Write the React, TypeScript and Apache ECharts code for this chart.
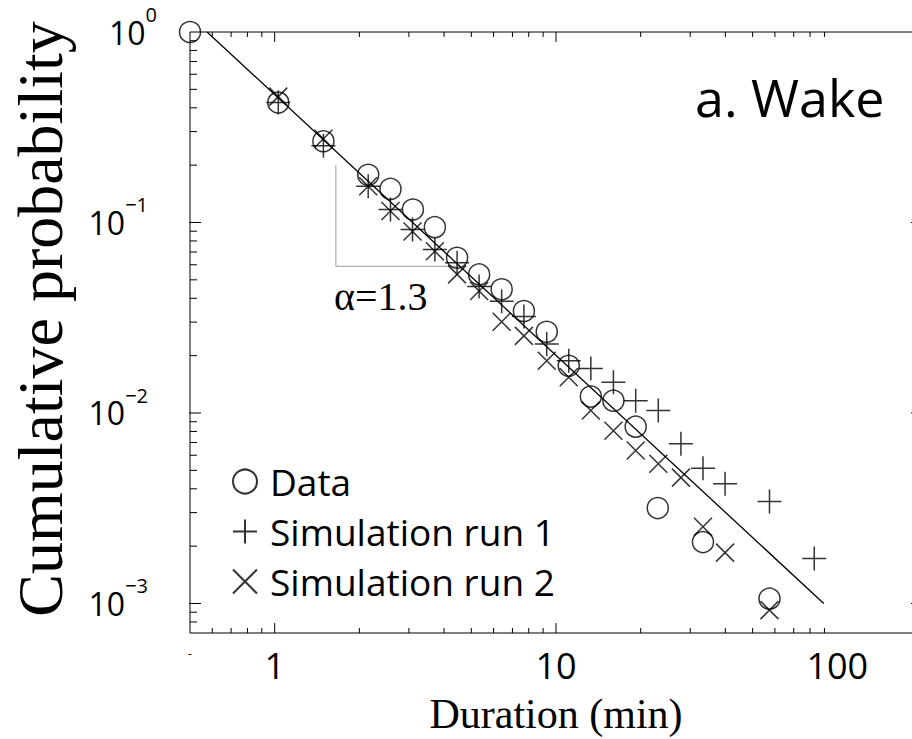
import React, { useEffect, useRef } from "react";
import * as echarts from "echarts";

// ---- data ----
const dataX = [0.5, 1.03, 1.49, 2.15, 2.58, 3.1, 3.71, 4.45, 5.33, 6.41, 7.69, 9.27, 11.1, 13.3, 16.0, 19.2, 23.0, 33.3, 57.4];
const dataY = [1.0, 0.426, 0.267, 0.178, 0.15, 0.117, 0.0945, 0.0653, 0.0534, 0.0446, 0.0343, 0.0267, 0.0177, 0.0122, 0.0116, 0.00848, 0.00317, 0.0021, 0.00106];

const sim1X = [1.03, 1.49, 2.15, 2.58, 3.09, 3.71, 4.45, 5.33, 6.41, 7.69, 9.27, 11.1, 13.3, 16.0, 19.2, 23.1, 27.8, 33.3, 39.9, 57.4, 82.8];
const sim1Y = [0.426, 0.253, 0.155, 0.117, 0.0919, 0.0722, 0.0615, 0.0462, 0.0386, 0.0321, 0.023, 0.0188, 0.0171, 0.0145, 0.0116, 0.0103, 0.00689, 0.00513, 0.00425, 0.00343, 0.00172];

const sim2X = [1.03, 1.49, 2.15, 2.58, 3.09, 3.71, 4.45, 5.33, 6.41, 7.69, 9.27, 11.1, 13.3, 16.0, 19.2, 23.1, 27.8, 33.3, 39.9, 57.4];
const sim2Y = [0.458, 0.275, 0.155, 0.115, 0.0897, 0.0706, 0.0534, 0.0437, 0.0301, 0.0254, 0.0188, 0.0154, 0.0103, 0.00807, 0.00635, 0.00541, 0.00458, 0.00253, 0.00185, 0.000923];

const fitX = [0.575, 89.5];
const fitY = [1.0, 0.001];

const triX = [1.65, 1.65, 4.55];
const triY = [0.2, 0.0589, 0.0589];

const xMajorTicks = [1, 10];
const xMinorTicks = [0.6, 0.7, 0.8, 0.9, 2, 3, 4, 5, 6, 7, 8, 9, 20, 30, 40, 50, 60, 70, 80, 90];
const yMajorTicks = [0.1, 0.01, 0.001];
const yMinorTicks = [
  0.9, 0.8, 0.7, 0.6, 0.5, 0.4, 0.3, 0.2,
  0.09, 0.08, 0.07, 0.06, 0.05, 0.04, 0.03, 0.02,
  0.009, 0.008, 0.007, 0.006, 0.005, 0.004, 0.003, 0.002,
  0.0009, 0.0008,
];

const X_MIN = 0.5;
const X_MAX = 200;
const Y_MIN = 0.0007;
const Y_MAX = 1;

const legendNames = ["Data", "Simulation run 1", "Simulation run 2"];

const zip = (xs: number[], ys: number[]) => xs.map((x, i) => [x, ys[i]]);

const SANS = "'Open Sans', 'DejaVu Sans', sans-serif";
const SERIF = "'Liberation Serif', 'DejaVu Serif', serif";

const PLUS = "path://M12,0 L12,24 M0,12 L24,12";
const CROSS = "path://M0,0 L24,24 M24,0 L0,24";

export default function App() {
  const ref = useRef<HTMLDivElement>(null);

  useEffect(() => {
    document.body.style.margin = "0";
    if (!ref.current) return;
    const chart = echarts.init(ref.current, undefined, { renderer: "svg" });

    const markerStyle = { color: "transparent", borderColor: "#000", borderWidth: 1.5 };

    const xTickData = [
      ...xMajorTicks.map((v) => [v, 1, 1]),
      ...xMinorTicks.map((v) => [v, 1, 0]),
    ];
    const yTickData = [
      ...yMajorTicks.map((v) => [1, v, 1]),
      ...yMinorTicks.map((v) => [1, v, 0]),
    ];

    const option: any = {
      animation: false,
      backgroundColor: "#fff",
      grid: {
        left: 190,
        top: 32,
        width: 732,
        height: 601,
        show: true,
        borderColor: "#000",
        borderWidth: 1,
        containLabel: false,
        outerBoundsMode: "none",
      },
      xAxis: {
        type: "log",
        logBase: 10,
        min: X_MIN,
        max: X_MAX,
        axisLine: { show: false },
        axisTick: { show: false },
        splitLine: { show: false },
        axisLabel: {
          color: "#000",
          fontFamily: SANS,
          fontSize: 36,
          margin: 14,
          formatter: (v: number) => {
            const l = Math.log10(v);
            if (Math.abs(l - Math.log10(X_MIN)) < 1e-6) return "{d|-}";
            if (Math.abs(l - Math.round(l)) > 1e-6) return "";
            const e = Math.round(l);
            if (e < 0 || e > 2) return "";
            return String(Math.round(Math.pow(10, e)));
          },
          rich: { d: { fontSize: 12, color: "#000", padding: [0, 0, 14, 0] } },
        },
      },
      yAxis: {
        type: "log",
        logBase: 10,
        min: Y_MIN,
        max: Y_MAX,
        axisLine: { show: false },
        axisTick: { show: false },
        splitLine: { show: false },
        axisLabel: {
          color: "#000",
          fontFamily: SANS,
          fontSize: 32,
          margin: 33,
          formatter: (v: number) => {
            const l = Math.log10(v);
            if (Math.abs(l - Math.round(l)) > 1e-6) return "";
            const e = Math.round(l);
            if (e === 0) return "10{sup|0}";
            return "10{sup|\u2212" + -e + "}{gap| }";
          },
          rich: {
            sup: { fontSize: 20, fontFamily: SANS, color: "#000", padding: [0, 0, 35, 0] },
            gap: { width: 9, fontSize: 10 },
          },
        },
      },
      legend: {
        orient: "vertical",
        left: 232,
        top: 463,
        padding: 0,
        itemWidth: 24,
        itemHeight: 24,
        itemGap: 13,
        data: legendNames,
        textStyle: {
          fontFamily: SANS,
          fontSize: 37,
          color: "#000",
          lineHeight: 37,
          padding: [0, 0, 0, 8],
        },
      },
      graphic: [
        {
          type: "text",
          x: 40,
          y: 319,
          rotation: Math.PI / 2,
          style: {
            text: "Cumulative probability",
            fontFamily: SERIF,
            fontSize: 64,
            fill: "#000",
            align: "center",
            verticalAlign: "middle",
            textAlign: "center",
            textVerticalAlign: "middle",
          },
        },
        {
          type: "text",
          x: 556,
          y: 714,
          style: {
            text: "Duration (min)",
            fontFamily: SERIF,
            fontSize: 42,
            fill: "#000",
            align: "center",
            verticalAlign: "middle",
            textAlign: "center",
            textVerticalAlign: "middle",
          },
        },
        {
          type: "text",
          x: 695,
          y: 96,
          style: {
            text: "a. Wake",
            fontFamily: SANS,
            fontSize: 52,
            fill: "#000",
            align: "left",
            verticalAlign: "middle",
            textAlign: "left",
            textVerticalAlign: "middle",
          },
        },
        {
          type: "text",
          x: 334,
          y: 296,
          style: {
            text: "\u03b1=1.3",
            fontFamily: SERIF,
            fontSize: 40,
            fill: "#000",
            align: "left",
            verticalAlign: "middle",
            textAlign: "left",
            textVerticalAlign: "middle",
          },
        },
      ],
      series: [
        {
          name: "slope",
          type: "line",
          data: zip(triX, triY),
          showSymbol: false,
          lineStyle: { color: "#999", width: 1 },
          silent: true,
          z: 1,
        },
        {
          name: "fit",
          type: "line",
          data: zip(fitX, fitY),
          showSymbol: false,
          lineStyle: { color: "#000", width: 1.3 },
          silent: true,
          z: 2,
        },
        {
          name: "xticks",
          type: "custom",
          data: xTickData,
          encode: { x: 0, y: 1 },
          silent: true,
          clip: false,
          z: 3,
          renderItem: (params: any, api: any) => {
            const cs = params.coordSys;
            const p = api.coord([api.value(0), 1]);
            const len = api.value(2) ? 10 : 5;
            const st = { stroke: "#000", lineWidth: 1 };
            return {
              type: "group",
              children: [
                { type: "line", shape: { x1: p[0], y1: cs.y + cs.height, x2: p[0], y2: cs.y + cs.height - len }, style: st },
                { type: "line", shape: { x1: p[0], y1: cs.y, x2: p[0], y2: cs.y + len }, style: st },
              ],
            };
          },
        },
        {
          name: "yticks",
          type: "custom",
          data: yTickData,
          encode: { x: 0, y: 1 },
          silent: true,
          clip: false,
          z: 3,
          renderItem: (params: any, api: any) => {
            const cs = params.coordSys;
            const p = api.coord([1, api.value(1)]);
            const major = api.value(2);
            const len = major ? 11 : 7;
            const st = { stroke: "#000", lineWidth: 1 };
            return {
              type: "group",
              children: [
                { type: "line", shape: { x1: cs.x - (major ? 1 : 0), y1: p[1], x2: cs.x + len, y2: p[1] }, style: st },
                { type: "line", shape: { x1: cs.x + cs.width, y1: p[1], x2: cs.x + cs.width - len, y2: p[1] }, style: st },
              ],
            };
          },
        },
        {
          name: "Data",
          type: "scatter",
          data: zip(dataX, dataY),
          symbol: "circle",
          symbolSize: 21,
          itemStyle: markerStyle,
          clip: false,
          z: 5,
        },
        {
          name: "Simulation run 1",
          type: "scatter",
          data: zip(sim1X, sim1Y),
          symbol: PLUS,
          symbolSize: 24,
          symbolKeepAspect: true,
          itemStyle: markerStyle,
          clip: false,
          z: 5,
        },
        {
          name: "Simulation run 2",
          type: "scatter",
          data: zip(sim2X, sim2Y),
          symbol: CROSS,
          symbolSize: 18,
          symbolKeepAspect: true,
          itemStyle: markerStyle,
          clip: false,
          z: 5,
        },
      ],
    };

    chart.setOption(option);
    return () => chart.dispose();
  }, []);

  return (
    <div
      ref={ref}
      style={{ position: "absolute", left: 0, top: 0, width: 912, height: 739, background: "#fff" }}
    />
  );
}
